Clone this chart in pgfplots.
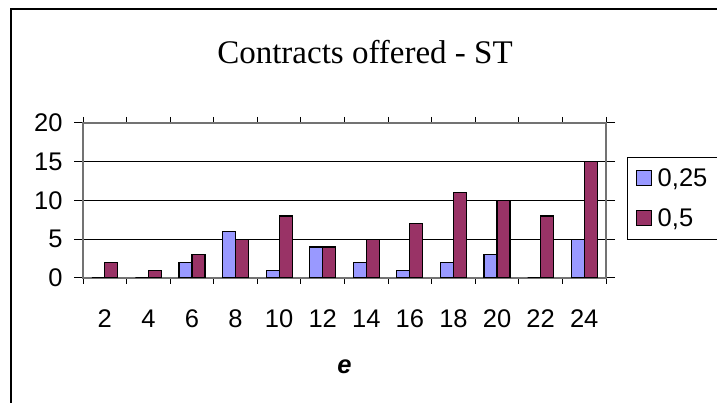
\documentclass[border=0pt]{standalone}
\usepackage{pgfplots}
\pgfplotsset{compat=1.18}
\usepackage{fontspec}
\setmainfont{Liberation Sans}
\newfontfamily\titlefont{Liberation Serif}
\definecolor{cblue}{HTML}{9999FF}
\definecolor{cmaroon}{HTML}{993366}
\pgfplotstableread{
x a b
1 0 2
2 0 1
3 2 3
4 6 5
5 1 8
6 4 4
7 2 5
8 1 7
9 2 11
10 3 10
11 0 8
12 5 15
}\datatable
\pgfplotsset{mylegend/.style={legend image code/.code={\draw[##1,line width=1.2pt] (0pt,-7.5pt) rectangle (15pt,7.5pt);}}}
\begin{document}
\begin{tikzpicture}[x=1pt,y=1pt]
\useasboundingbox (0,0) rectangle (717,403);
\draw[line width=1.5pt] (11,-5) -- (11,394) -- (725,394);
\node[font=\titlefont\fontsize{33}{36}\selectfont] at (365,351) {Contracts offered - ST};
\begin{axis}[
  at={(83pt,125pt)}, anchor=south west, scale only axis,
  width=523pt, height=155pt,
  xmin=0.5, xmax=12.5, ymin=0, ymax=20,
  ybar=0pt, bar width=13pt,
  xtick={1,...,12}, xticklabels={2,4,6,8,10,12,14,16,18,20,22,24},
  minor xtick={0.5,1.5,...,12.5},
  ytick={0,5,10,15,20},
  tick align=outside, major tick length=9pt, minor tick length=6pt,
  major x tick style={draw=none},
  minor x tick style={black, line width=1pt},
  y tick style={black, line width=1pt},
  ymajorgrids, grid style={black, line width=0.8pt},
  axis line style={draw=gray!90!black, line width=1.5pt},
  tick label style={font=\fontsize{25.5}{26}\selectfont},
  /pgf/number format/assume math mode=true,
  xticklabel style={yshift=-19pt},
  yticklabel style={xshift=-8pt},
  xlabel={\bfseries\itshape e},
  xlabel style={font=\fontsize{25.5}{26}\selectfont, at={(axis description cs:0.5,0)}, anchor=center, yshift=-89pt},
  legend style={at={(1.0402,0.781)}, anchor=north west, draw=black, line width=1pt,
    font=\fontsize{25.5}{26}\selectfont, inner xsep=8pt, inner ysep=9pt, row sep=17pt,
    legend cell align=left},
]
\addplot[fill=cblue, draw=black, line width=1.2pt, mylegend] table[x=x,y=a] {\datatable};
\addplot[fill=cmaroon, draw=black, line width=1.2pt, mylegend] table[x=x,y=b] {\datatable};
\legend{{\hspace{4pt}0,25},{\hspace{4pt}0,5}}
\end{axis}
\end{tikzpicture}
\end{document}
